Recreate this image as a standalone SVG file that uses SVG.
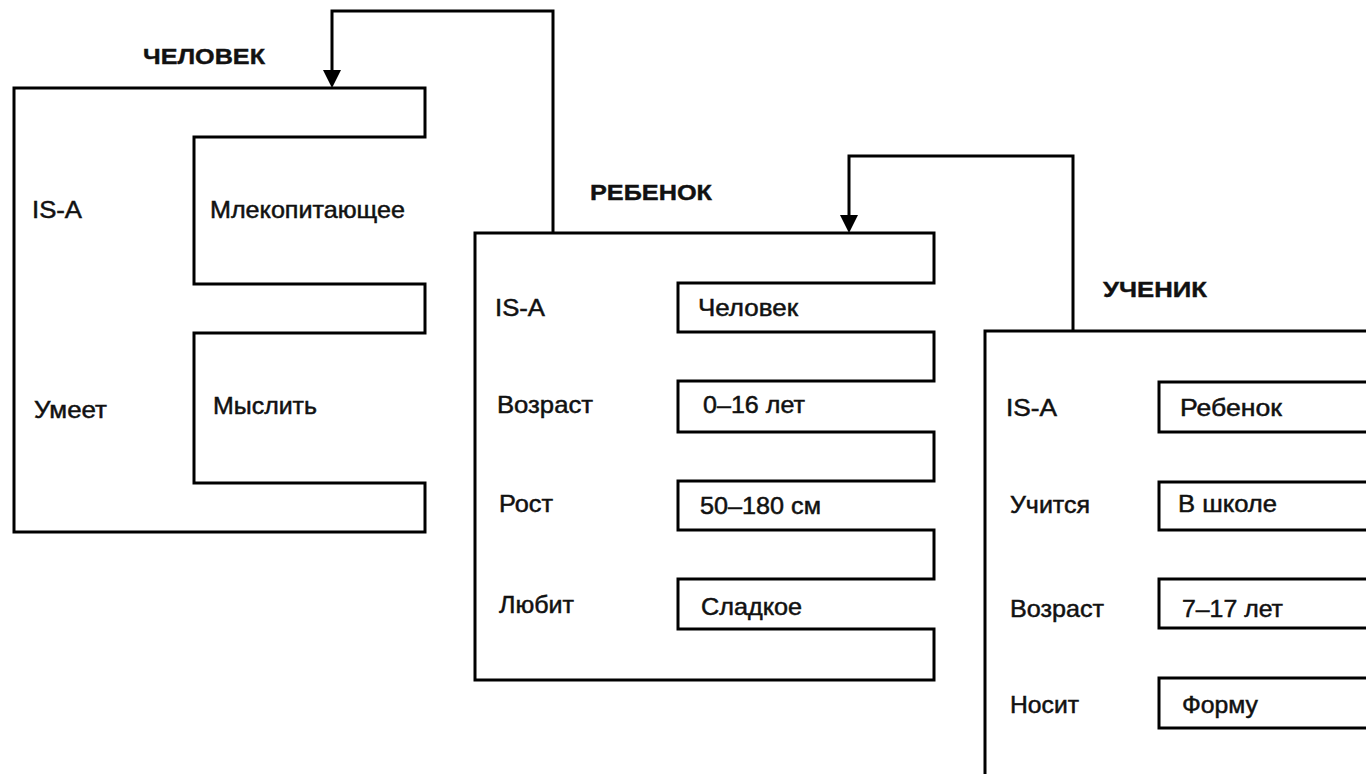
<svg xmlns="http://www.w3.org/2000/svg" width="1366" height="774" viewBox="0 0 1366 774">
<style>
.fr{fill:none;stroke:#000;stroke-width:3;stroke-linejoin:miter}
.t{font-family:"Liberation Sans",Arial,sans-serif;font-size:24px;fill:#111;stroke:#111;stroke-width:0.5}
.h{font-family:"Liberation Sans",Arial,sans-serif;font-size:22px;font-weight:bold;fill:#111;stroke:#111;stroke-width:0.4}
.c{fill:none;stroke:#000;stroke-width:3}
</style>
<defs>
<marker id="arr" viewBox="0 0 18 18" refX="0" refY="9" markerWidth="18" markerHeight="18" markerUnits="userSpaceOnUse" orient="auto">
<path d="M0,0 L18,9 L0,18 Z" fill="#000"/>
</marker>
</defs>
<rect width="1366" height="774" fill="#fff"/>
<g id="connectors">
<path class="c" d="M553,233 V11 H332 V70" marker-end="url(#arr)"/>
<path class="c" d="M1073,331 V156 H849 V215" marker-end="url(#arr)"/>
</g>
<g id="chelovek">
<path class="fr" d="M14,88 H425 V137 H194 V284 H425 V333 H194 V483 H425 V532 H14 Z"/>
<text class="h" x="143" y="64" textLength="122" lengthAdjust="spacingAndGlyphs">ЧЕЛОВЕК</text>
<text class="t" x="32" y="218" textLength="50" lengthAdjust="spacingAndGlyphs">IS-A</text>
<text class="t" x="210" y="218" textLength="195" lengthAdjust="spacingAndGlyphs">Млекопитающее</text>
<text class="t" x="34" y="418" textLength="73" lengthAdjust="spacingAndGlyphs">Умеет</text>
<text class="t" x="213" y="414" textLength="104" lengthAdjust="spacingAndGlyphs">Мыслить</text>
</g>
<g id="rebenok">
<path class="fr" d="M475,233 H934 V283 H678 V332 H934 V381 H678 V432 H934 V481 H678 V530 H934 V579 H678 V629 H934 V680 H475 Z"/>
<text class="h" x="590" y="200" textLength="122" lengthAdjust="spacingAndGlyphs">РЕБЕНОК</text>
<text class="t" x="495" y="316" textLength="50" lengthAdjust="spacingAndGlyphs">IS-A</text>
<text class="t" x="698" y="316" textLength="100" lengthAdjust="spacingAndGlyphs">Человек</text>
<text class="t" x="497" y="413" textLength="96" lengthAdjust="spacingAndGlyphs">Возраст</text>
<text class="t" x="703" y="413" textLength="102" lengthAdjust="spacingAndGlyphs">0–16 лет</text>
<text class="t" x="499" y="512" textLength="54" lengthAdjust="spacingAndGlyphs">Рост</text>
<text class="t" x="700" y="514" textLength="121" lengthAdjust="spacingAndGlyphs">50–180 см</text>
<text class="t" x="499" y="613" textLength="75" lengthAdjust="spacingAndGlyphs">Любит</text>
<text class="t" x="701" y="615" textLength="101" lengthAdjust="spacingAndGlyphs">Сладкое</text>
</g>
<g id="uchenik">
<path class="fr" d="M985,780 V331 H1375"/>
<rect class="fr" x="1159" y="382" width="220" height="50"/>
<rect class="fr" x="1159" y="482" width="220" height="48"/>
<rect class="fr" x="1159" y="579" width="220" height="49"/>
<rect class="fr" x="1159" y="678" width="220" height="50"/>
<text class="h" x="1103" y="297" textLength="104" lengthAdjust="spacingAndGlyphs">УЧЕНИК</text>
<text class="t" x="1006" y="416" textLength="51" lengthAdjust="spacingAndGlyphs">IS-A</text>
<text class="t" x="1180" y="416" textLength="102" lengthAdjust="spacingAndGlyphs">Ребенок</text>
<text class="t" x="1010" y="513" textLength="80" lengthAdjust="spacingAndGlyphs">Учится</text>
<text class="t" x="1178" y="512" textLength="99" lengthAdjust="spacingAndGlyphs">В школе</text>
<text class="t" x="1010" y="617" textLength="94" lengthAdjust="spacingAndGlyphs">Возраст</text>
<text class="t" x="1182" y="617" textLength="101" lengthAdjust="spacingAndGlyphs">7–17 лет</text>
<text class="t" x="1010" y="713" textLength="69" lengthAdjust="spacingAndGlyphs">Носит</text>
<text class="t" x="1182" y="713" textLength="76" lengthAdjust="spacingAndGlyphs">Форму</text>
</g>
</svg>
